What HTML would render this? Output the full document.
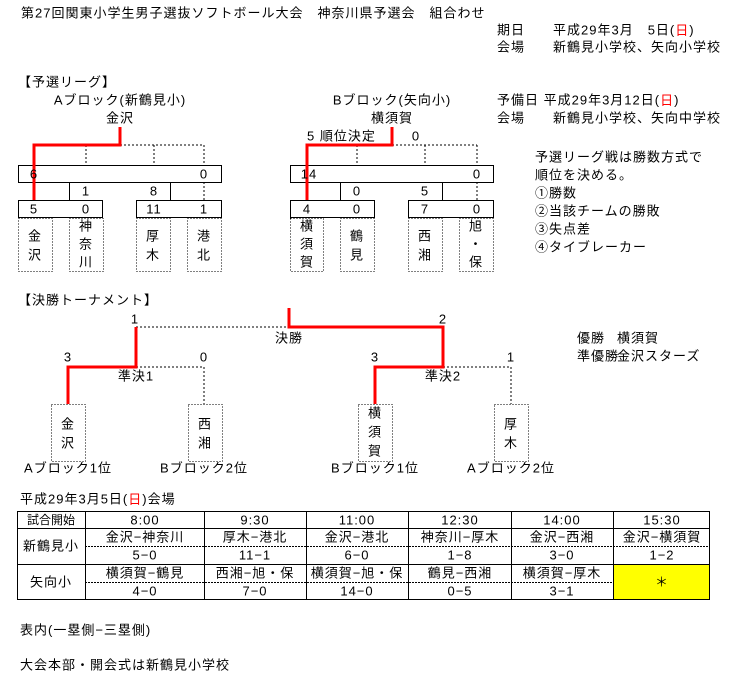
<!DOCTYPE html>
<html><head><meta charset="utf-8"><style>
html,body{margin:0;padding:0;background:#fff;}
svg{display:block;}
text{font-family:"Liberation Sans","Noto Sans CJK JP",sans-serif;font-size:13px;fill:#000;dominant-baseline:central;letter-spacing:1px;}
.c{text-anchor:middle;}
.r{fill:#f00;}
</style></head><body>
<svg width="741" height="673" viewBox="0 0 741 673" xmlns="http://www.w3.org/2000/svg">
<g fill="none" stroke="#000" stroke-width="1">
<path d="M120 145H204M86 145V165M154 145V165M204 145V165M204 182V200" stroke-dasharray="2,2"/>
<rect x="18.5" y="165.5" width="203" height="17"/>
<path d="M69.5 182V200M170.5 182V200"/>
<rect x="18.5" y="200.5" width="84" height="17"/>
<rect x="136.5" y="200.5" width="85" height="17"/>
<g stroke-dasharray="1,2">
<rect x="18.5" y="218.5" width="34" height="53"/>
<rect x="69.5" y="218.5" width="34" height="53"/>
<rect x="136.5" y="218.5" width="34" height="53"/>
<rect x="187.5" y="218.5" width="34" height="53"/>
</g>
<path d="M392 145H477M357 145V165M425 145V165M477 145V165M477 182V200" stroke-dasharray="2,2"/>
<rect x="290.5" y="165.5" width="203" height="17"/>
<path d="M340.5 182V200M442.5 182V200"/>
<rect x="290.5" y="200.5" width="84" height="17"/>
<rect x="408.5" y="200.5" width="85" height="17"/>
<g stroke-dasharray="1,2">
<rect x="290.5" y="218.5" width="33" height="53"/>
<rect x="340.5" y="218.5" width="34" height="53"/>
<rect x="408.5" y="218.5" width="34" height="53"/>
<rect x="459.5" y="218.5" width="34" height="53"/>
</g>
<path d="M136 327H289M136 367H204V404M443 367H511V404" stroke-dasharray="2,2"/>
<g stroke-dasharray="1,2">
<rect x="51.5" y="404.5" width="34" height="57"/>
<rect x="188.5" y="404.5" width="34" height="57"/>
<rect x="358.5" y="404.5" width="34" height="57"/>
<rect x="494.5" y="404.5" width="34" height="57"/>
</g>
</g>
<g fill="none" stroke="#f00" stroke-width="3">
<path d="M120 127V145H34V200"/>
<path d="M392 127V145H307V200"/>
<path d="M289 308V327H443V367H375V404"/>
<path d="M136 327V367H68V404"/>
</g>
<text x="21" y="13">第27回関東小学生男子選抜ソフトボール大会　神奈川県予選会　組合わせ</text>
<text x="497" y="30">期日　　平成29年3月　5日(<tspan class="r">日</tspan>)</text>
<text x="497" y="47">会場　　新鶴見小学校、矢向小学校</text>
<text x="497" y="100">予備日 平成29年3月12日(<tspan class="r">日</tspan>)</text>
<text x="497" y="118">会場　　新鶴見小学校、矢向中学校</text>
<text x="18" y="82">【予選リーグ】</text>
<text x="120" y="100" class="c">Aブロック(新鶴見小)</text>
<text x="120" y="118" class="c">金沢</text>
<text x="392" y="100" class="c">Bブロック(矢向小)</text>
<text x="392" y="118" class="c">横須賀</text>
<text x="307" y="136">5  順位決定</text>
<text x="416" y="136" class="c">0</text>
<text x="34" y="174" class="c">6</text><text x="204" y="174" class="c">0</text>
<text x="86" y="191" class="c">1</text><text x="154" y="191" class="c">8</text>
<text x="34" y="209" class="c">5</text><text x="86" y="209" class="c">0</text>
<text x="154" y="209" class="c">11</text><text x="204" y="209" class="c">1</text>
<text x="35" y="236" class="c">金</text><text x="35" y="255" class="c">沢</text>
<text x="86" y="226" class="c">神</text><text x="86" y="244" class="c">奈</text><text x="86" y="262" class="c">川</text>
<text x="153" y="236" class="c">厚</text><text x="153" y="255" class="c">木</text>
<text x="204" y="236" class="c">港</text><text x="204" y="255" class="c">北</text>
<text x="309" y="174" class="c">14</text><text x="477" y="174" class="c">0</text>
<text x="357" y="191" class="c">0</text><text x="425" y="191" class="c">5</text>
<text x="307" y="209" class="c">4</text><text x="357" y="209" class="c">0</text>
<text x="425" y="209" class="c">7</text><text x="477" y="209" class="c">0</text>
<text x="307" y="226" class="c">横</text><text x="307" y="244" class="c">須</text><text x="307" y="262" class="c">賀</text>
<text x="357" y="236" class="c">鶴</text><text x="357" y="255" class="c">見</text>
<text x="425" y="236" class="c">西</text><text x="425" y="255" class="c">湘</text>
<text x="476" y="226" class="c">旭</text><text x="476" y="244" class="c">・</text><text x="476" y="262" class="c">保</text>
<text x="535" y="157">予選リーグ戦は勝数方式で</text>
<text x="535" y="175">順位を決める。</text>
<text x="535" y="193">①勝数</text>
<text x="535" y="211">②当該チームの勝敗</text>
<text x="535" y="229">③失点差</text>
<text x="535" y="247">④タイブレーカー</text>
<text x="18" y="300">【決勝トーナメント】</text>
<text x="135" y="319" class="c">1</text><text x="443" y="319" class="c">2</text>
<text x="289" y="338" class="c">決勝</text>
<text x="68" y="357" class="c">3</text><text x="204" y="357" class="c">0</text>
<text x="375" y="357" class="c">3</text><text x="511" y="357" class="c">1</text>
<text x="136" y="376" class="c">準決1</text><text x="443" y="376" class="c">準決2</text>
<text x="68" y="424" class="c">金</text><text x="68" y="443" class="c">沢</text>
<text x="205" y="424" class="c">西</text><text x="205" y="443" class="c">湘</text>
<text x="375" y="413" class="c">横</text><text x="375" y="432" class="c">須</text><text x="375" y="451" class="c">賀</text>
<text x="511" y="424" class="c">厚</text><text x="511" y="443" class="c">木</text>
<text x="68" y="468" class="c">Aブロック1位</text><text x="204" y="468" class="c">Bブロック2位</text>
<text x="375" y="468" class="c">Bブロック1位</text><text x="511" y="468" class="c">Aブロック2位</text>
<text x="577" y="338">優勝</text><text x="617" y="338">横須賀</text>
<text x="577" y="356">準優勝</text><text x="617" y="356">金沢スターズ</text>
<text x="20" y="499">平成29年3月5日(<tspan class="r">日</tspan>)会場</text>
<rect x="613" y="564" width="97" height="36" fill="#ff0"/>
<g fill="none" stroke="#000" stroke-width="1">
<rect x="17.5" y="511.5" width="692" height="88"/>
<path d="M17 528.5H710M17 564.5H710"/>
<path d="M85 546.5H710M85 582.5H613" stroke-dasharray="2,1"/>
<path d="M85.5 511V600M204.5 511V600M306.5 511V600M408.5 511V600M511.5 511V600M613.5 511V600"/>
</g>
<text x="51" y="520" class="c" style="font-size:12px;letter-spacing:0">試合開始</text>
<text x="51" y="546" class="c">新鶴見小</text>
<text x="51" y="582" class="c">矢向小</text>
<text x="145" y="520" class="c">8:00</text><text x="255" y="520" class="c">9:30</text>
<text x="357" y="520" class="c">11:00</text><text x="460" y="520" class="c">12:30</text>
<text x="562" y="520" class="c">14:00</text><text x="662" y="520" class="c">15:30</text>
<text x="145" y="537" class="c">金沢−神奈川</text><text x="255" y="537" class="c">厚木−港北</text>
<text x="357" y="537" class="c">金沢−港北</text><text x="460" y="537" class="c">神奈川−厚木</text>
<text x="562" y="537" class="c">金沢−西湘</text><text x="662" y="537" class="c">金沢−横須賀</text>
<text x="145" y="555" class="c">5−0</text><text x="255" y="555" class="c">11−1</text>
<text x="357" y="555" class="c">6−0</text><text x="460" y="555" class="c">1−8</text>
<text x="562" y="555" class="c">3−0</text><text x="662" y="555" class="c">1−2</text>
<text x="145" y="573" class="c">横須賀−鶴見</text><text x="255" y="573" class="c">西湘−旭・保</text>
<text x="357" y="573" class="c">横須賀−旭・保</text><text x="460" y="573" class="c">鶴見−西湘</text>
<text x="562" y="573" class="c">横須賀−厚木</text><text x="662" y="582" class="c">＊</text>
<text x="145" y="591" class="c">4−0</text><text x="255" y="591" class="c">7−0</text>
<text x="357" y="591" class="c">14−0</text><text x="460" y="591" class="c">0−5</text>
<text x="562" y="591" class="c">3−1</text>
<text x="20" y="630">表内(一塁側−三塁側)</text>
<text x="20" y="665">大会本部・開会式は新鶴見小学校</text>
</svg>
</body></html>
